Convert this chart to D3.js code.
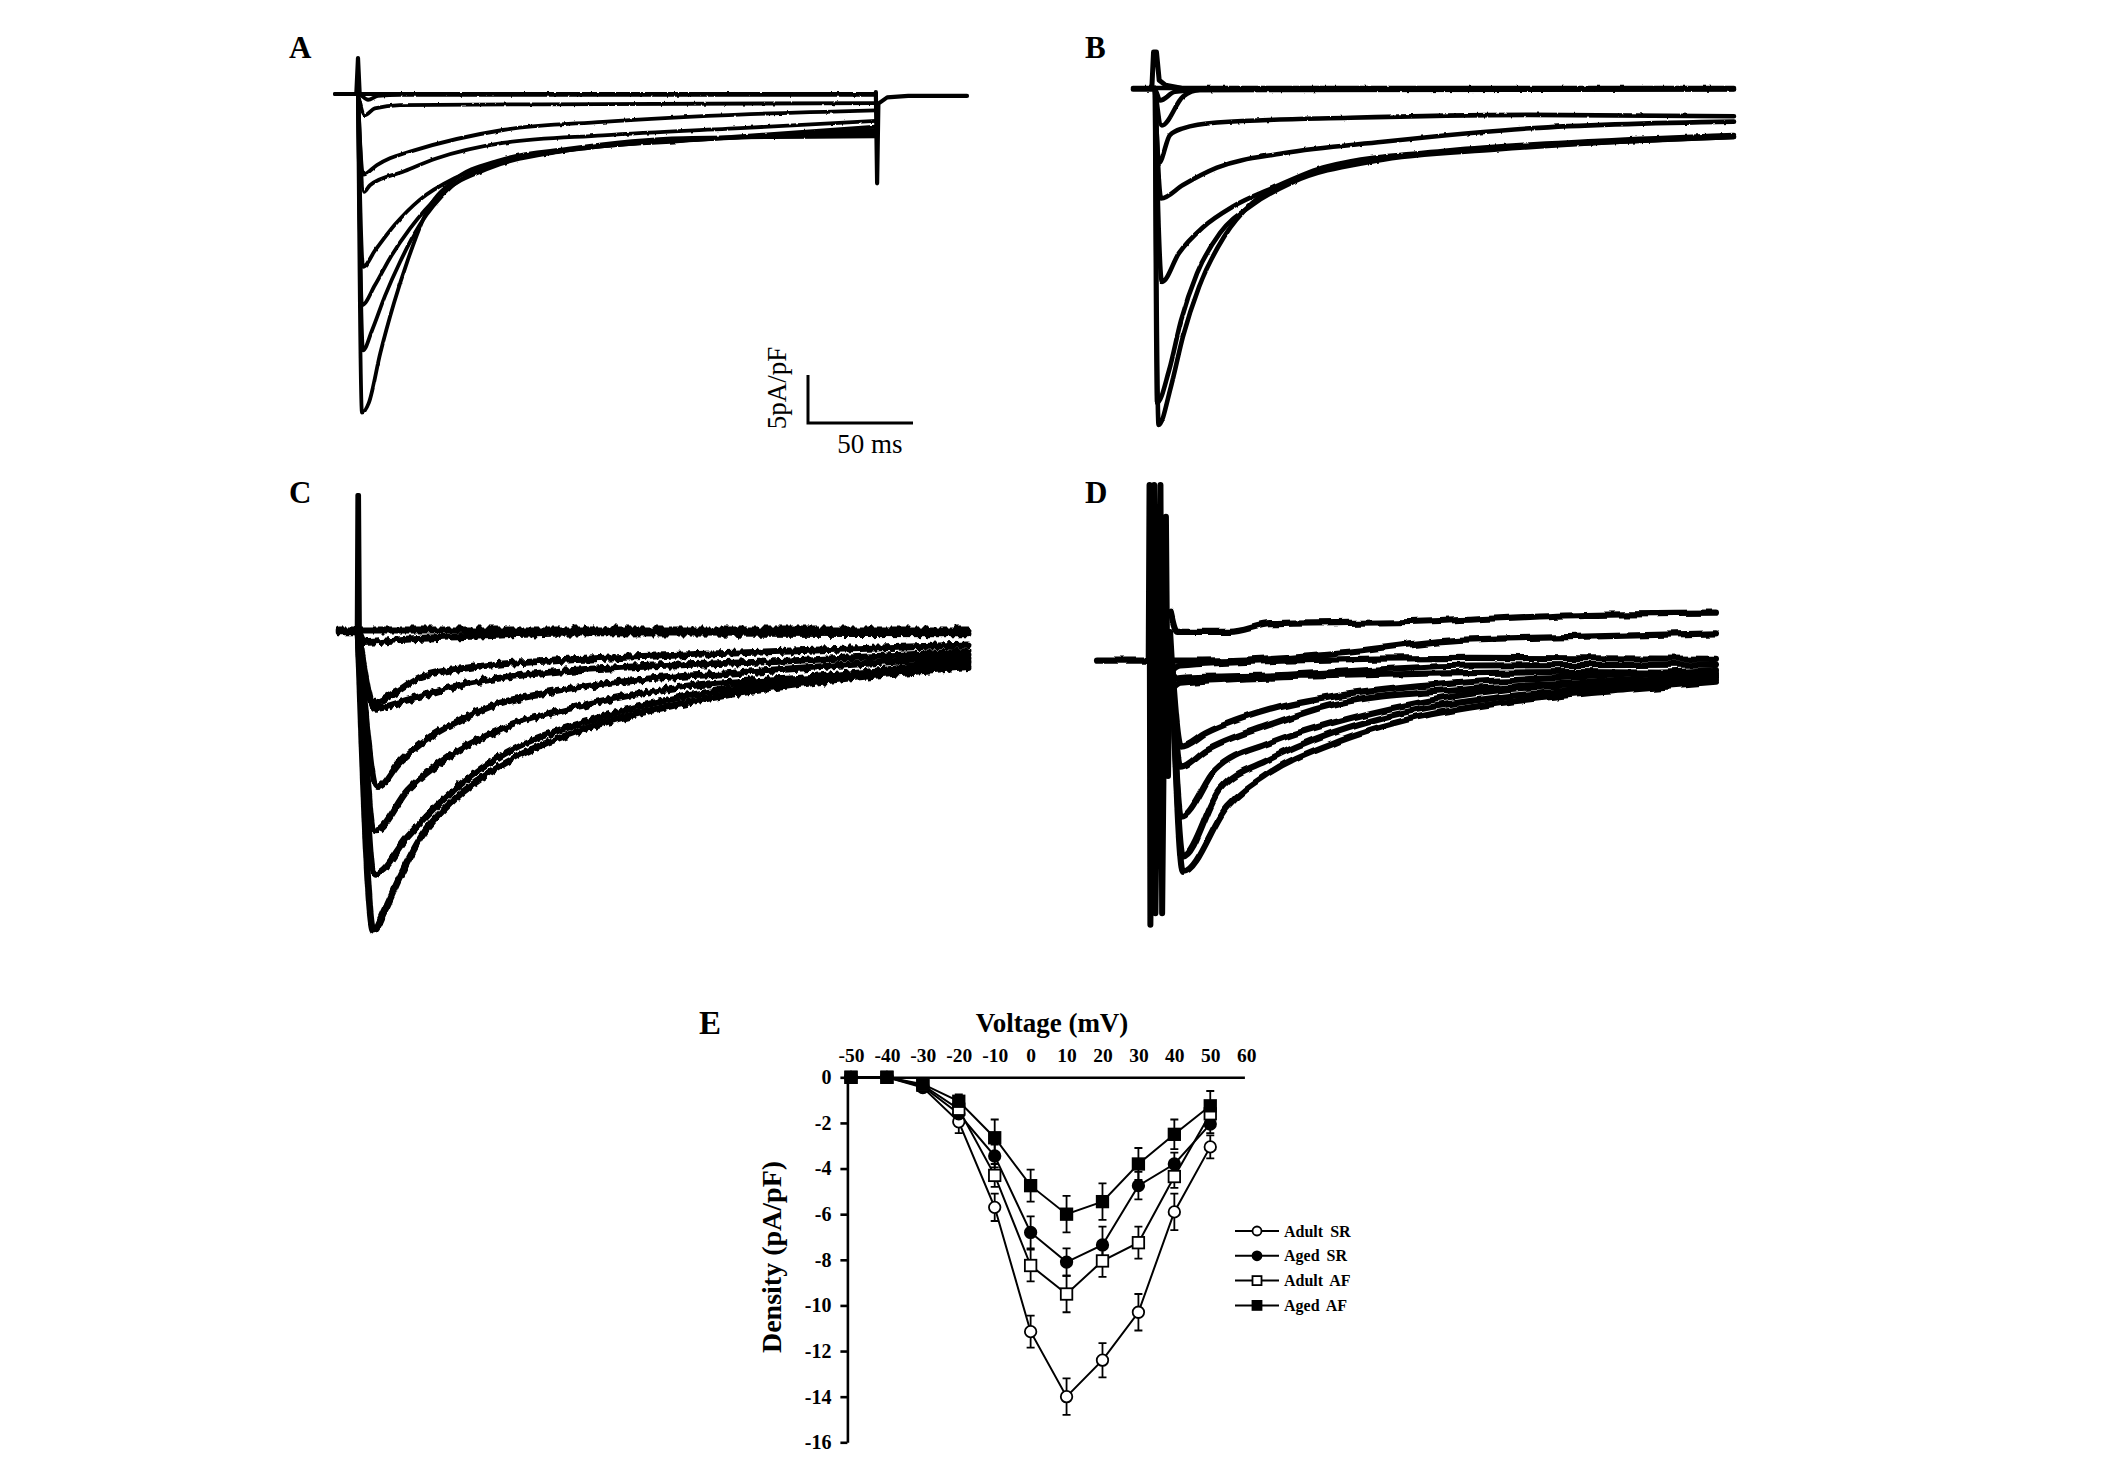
<!DOCTYPE html>
<html><head><meta charset="utf-8">
<script src="https://cdn.jsdelivr.net/npm/d3@7"></script>
<style>body{margin:0;background:#fff}svg{display:block}</style>
</head><body>
<svg id="fig" width="2126" height="1473">
<defs>
 <filter id="jitterC" filterUnits="userSpaceOnUse" x="300" y="460" width="740" height="520">
  <feTurbulence type="fractalNoise" baseFrequency="0.22 0.06" numOctaves="2" seed="3" result="t"/>
  <feColorMatrix in="t" type="matrix" values="0 0 0 0 0.5  0 1 0 0 0  0 0 1 0 0  0 0 0 0 1" result="m"/>
  <feDisplacementMap in="SourceGraphic" in2="m" scale="8" xChannelSelector="R" yChannelSelector="G"/>
 </filter>
 <filter id="jitterD" filterUnits="userSpaceOnUse" x="1080" y="460" width="740" height="520">
  <feTurbulence type="fractalNoise" baseFrequency="0.06 0.03" numOctaves="1" seed="7" result="t"/>
  <feColorMatrix in="t" type="matrix" values="0 0 0 0 0.5  0 1 0 0 0  0 0 1 0 0  0 0 0 0 1" result="m"/>
  <feDisplacementMap in="SourceGraphic" in2="m" scale="8" xChannelSelector="R" yChannelSelector="G"/>
 </filter>
 <filter id="jitterAB" filterUnits="userSpaceOnUse" x="280" y="20" width="1560" height="440">
  <feTurbulence type="fractalNoise" baseFrequency="0.3 0.1" numOctaves="1" seed="5" result="t"/>
  <feColorMatrix in="t" type="matrix" values="0 0 0 0 0.5  0 1 0 0 0  0 0 1 0 0  0 0 0 0 1" result="m"/>
  <feDisplacementMap in="SourceGraphic" in2="m" scale="2.5" xChannelSelector="R" yChannelSelector="G"/>
 </filter>
</defs>
</svg>
<script>
// ---------- Panel E data (I–V relationship) ----------
const voltages = [-50,-40,-30,-20,-10,0,10,20,30,40,50];
const xTickLabels = [-50,-40,-30,-20,-10,0,10,20,30,40,50,60];
const yTickLabels = [0,-2,-4,-6,-8,-10,-12,-14,-16];
const seriesNames = ["Adult SR","Aged SR","Adult AF","Aged AF"];
const adultSR = [0,0,-0.45,-1.95,-5.7,-11.15,-14.0,-12.4,-10.3,-5.9,-3.05];
const agedSR  = [0,0,-0.4,-1.6,-3.45,-6.8,-8.1,-7.35,-4.75,-3.8,-2.05];
const adultAF = [0,0,-0.35,-1.4,-4.3,-8.25,-9.5,-8.05,-7.25,-4.35,-1.6];
const agedAF  = [0,0,-0.3,-1.05,-2.65,-4.75,-6.0,-5.45,-3.8,-2.5,-1.25];
const adultSRerr = [0,0,0.1,0.5,0.6,0.7,0.8,0.75,0.8,0.8,0.5];
const agedSRerr  = [0,0,0.1,0.3,0.5,0.7,0.6,0.8,0.6,0.5,0.4];
const adultAFerr = [0,0,0.1,0.3,0.5,0.7,0.8,0.7,0.7,0.5,0.4];
const agedAFerr  = [0,0,0.1,0.3,0.8,0.7,0.8,0.8,0.7,0.65,0.65];

// ---------- Current traces: [time ms, density pA/pF] ----------
const traceA = [
 [[-11,0],[246.7,0]],
 [[-11,0],[0,0],[4.8,-0.6],[9.5,-0.2],[20,-0.1],[246.7,-0.1]],
 [[0,0],[3.3,-2.2],[8,-1.5],[20,-1.15],[115,-1.05],[246.7,-0.95]],
 [[0,0],[2.4,-8.4],[9,-7.4],[15.2,-6.7],[24.8,-6.0],[69,-3.75],[116.7,-2.9],[186.7,-2.1],[246.7,-1.7]],
 [[0,0],[2.9,-10.2],[5.7,-9.5],[21.4,-8.1],[37.6,-6.7],[69,-5.1],[116.7,-4.3],[186.7,-3.5],[246.7,-2.8]],
 [[0,0],[2.4,-18],[8.1,-16.3],[17.6,-13.6],[29.5,-11],[46.2,-8.75],[72.4,-6.9],[110.5,-5.6],[162.9,-4.7],[246.7,-3.4]],
 [[0,0],[1.9,-22],[8.1,-19.9],[15.2,-17.1],[24.8,-14],[39,-10.5],[62.9,-7.7],[96.2,-6.0],[153.3,-4.9],[246.7,-3.75]],
 [[0,0],[2.4,-26.7],[6.7,-24.6],[12.9,-21],[20,-17.5],[29.5,-13.6],[43.8,-9.8],[67.6,-7.2],[101,-5.8],[158,-4.8],[246.7,-4.1]],
 [[0,0],[1.9,-33.2],[5.1,-32.2],[10.6,-27.0],[17.1,-21.8],[23.7,-17.3],[32.4,-12.4],[45.6,-9.0],[67.4,-6.9],[100.2,-5.7],[154.9,-4.6],[246.7,-4.4]]
];
const artifactA = [
 [[-0.8,0],[0,3.75],[0.8,0]],
 [[246.6,0.2],[247.2,-9.3],[247.8,-1.0],[252,-0.35],[262,-0.2],[290,-0.2]]
];
const traceB = [
 [[-10.5,0],[275.7,0]],
 [[-10.5,-0.15],[0,-0.15],[2.4,-1.3],[9.5,-0.4],[21.4,-0.2],[275.7,-0.15]],
 [[0,0],[3.3,-3.9],[13.3,-0.9],[21.4,-0.2],[275.7,-0.1]],
 [[0,0],[1.9,-7.8],[7.1,-4.9],[13.3,-4.2],[29.5,-3.6],[92.9,-3.1],[178.6,-2.8],[275.7,-2.95]],
 [[0,0],[2.9,-11.5],[13.3,-10.1],[29.5,-8.3],[61,-6.8],[108.6,-5.6],[178.6,-4.2],[275.7,-3.5]],
 [[0,0],[3.3,-20.2],[11.4,-17.2],[22.9,-14.5],[36.7,-12.4],[56.2,-10.4],[81.4,-8.2],[140.5,-6.5],[211.9,-5.5],[275.7,-4.9]],
 [[0,0],[1,-32.8],[6.7,-29.4],[12.4,-24.2],[20,-19.3],[31,-15.1],[46.2,-12.2],[65.7,-9.8],[104.8,-7.6],[162.9,-6.4],[221.4,-5.6],[275.7,-5.1]],
 [[0,0],[1.7,-35.1],[7.6,-31.1],[13.3,-25.9],[21,-20.7],[32.9,-15.5],[46.2,-12],[65.7,-9.6],[104.8,-7.5],[162.9,-6.25],[221.4,-5.6],[275.7,-5.1]]
];
const artifactB = [
 [[-1.5,0],[-0.7,3.75],[0.7,3.75],[2,0.8],[5,0.3],[12,0]]
];
const traceC = [
 [[-9,0],[290.5,0]],
 [[-9,-0.2],[0,-0.2],[3,-1.3],[20,-1.0],[60,-0.6],[111,-0.3],[290.5,-0.4]],
 [[0,0],[7.3,-7.64],[17.1,-6.6],[30.2,-4.86],[56.5,-3.82],[100.2,-3.13],[154.9,-2.6],[220.5,-2.08],[290.5,-1.56]],
 [[0,0],[8.4,-8.16],[23.7,-7.29],[45.6,-5.9],[78.4,-4.69],[133,-3.82],[198.6,-3.3],[290.5,-2.26]],
 [[0,0],[9.5,-16.32],[19.3,-13.89],[34.6,-11.11],[45.6,-9.72],[67.4,-7.64],[89.3,-6.6],[133,-5.21],[176.8,-4.51],[242.4,-3.47],[290.5,-2.78]],
 [[0,0],[8.4,-20.83],[23.7,-16.67],[45.6,-12.85],[67.4,-10.42],[111.1,-7.64],[154.9,-5.9],[220.5,-4.86],[290.5,-3.13]],
 [[0,0],[8.4,-25.35],[23.7,-21.53],[45.6,-16.67],[67.4,-13.19],[111.1,-9.38],[154.9,-6.94],[220.5,-5.03],[290.5,-3.47]],
 [[0,0],[7.3,-31.25],[12.8,-29.17],[19.3,-26.04],[30.2,-21.53],[45.6,-17.71],[67.4,-14.24],[111.1,-10.07],[154.9,-7.64],[220.5,-5.38],[290.5,-3.82]]
];
const artifactC = [
 [[-0.6,0],[-0.3,14.06],[0.5,14.06],[0.9,0]]
];
const traceD = [
 [[-27.6,0],[-3,0]],
 [[7.5,5],[10.5,3.0],[35.7,3.0],[54.8,3.8],[124.8,4.06],[204.8,4.76],[267.1,4.9]],
 [[8,0],[40,0.1],[84.5,0.77],[144.8,2.16],[204.8,2.5],[267.1,2.85]],
 [[8,-1],[12,-0.5],[60,0.0],[150,0.3],[267.1,0.2]],
 [[8,-2],[12,-1.8],[60,-1.5],[150,-0.5],[267.1,-0.4]],
 [[8,-3],[12,-2.3],[80,-1.6],[200,-1.2],[267.1,-1.3]],
 [[8,0],[12.4,-8.96],[24.3,-7.53],[54.3,-5.14],[84.3,-3.78],[144.8,-2.32],[204.8,-1.7],[267.1,-0.97]],
 [[8,0],[12,-11.04],[24.3,-9.3],[54.3,-6.7],[84.3,-4.6],[144.8,-3.05],[204.8,-2.3],[267.1,-1.5]],
 [[8,0],[12.4,-16.25],[28.6,-11.4],[54.3,-8.6],[84.3,-6.5],[124.8,-4.4],[164.8,-3.05],[224.8,-2.3],[267.1,-1.7]],
 [[8,0],[13.3,-20.4],[30.5,-13.5],[54.3,-10.3],[84.3,-7.5],[124.8,-5.1],[164.8,-3.8],[224.8,-2.7],[267.1,-2.0]],
 [[8,0],[13.3,-22.0],[34.3,-15.2],[54.3,-11.7],[84.3,-8.6],[124.8,-5.9],[164.8,-4.4],[224.8,-3.05],[267.1,-2.3]]
];
const artifactD = [
 [[-3,0],[-2.6,18.3],[-2.2,-27.5],[-0.4,18.3],[0.2,-26.3],[2.6,18.3],[3.4,-26.3],[5.2,15],[6.2,-12],[7.2,3],[8,0]]
];
const scaleBarMs = 50, scaleBarDensity = 5;

// ---------- drawing ----------
const svg = d3.select("#fig");
const serif = "'Liberation Serif','Times New Roman',serif";
svg.insert("rect","defs").attr("width",2126).attr("height",1473).attr("fill","#fff");

const panels = [
 {label:"A", x0:358, y0:94, lx:289, ly:58, traces:traceA, art:artifactA, sw:3.8, aw:4.2, filt:"url(#jitterAB)"},
 {label:"B", x0:1155, y0:88, lx:1085, ly:58, traces:traceB, art:artifactB, sw:4.6, aw:5, filt:"url(#jitterAB)"},
 {label:"C", x0:358, y0:630, lx:289, ly:503, traces:traceC, art:artifactC, sw:6.8, aw:4, filt:"url(#jitterC)"},
 {label:"D", x0:1155, y0:660.7, lx:1085, ly:503, traces:traceD, art:artifactD, sw:6.2, aw:6, filt:"url(#jitterD)"}
];
const msPerPx = 105/50, unitPx = 48/5;
let scalesA;
panels.forEach(p => {
  const x = d3.scaleLinear().domain([0,50]).range([p.x0, p.x0 + 50*msPerPx]);
  const y = d3.scaleLinear().domain([0,-5]).range([p.y0, p.y0 + 5*unitPx]);
  if (p.label === "A") scalesA = {x, y};
  const g = svg.append("g");
  const gt = g.append("g").attr("filter", p.filt);
  const smooth = d3.line().x(d=>x(d[0])).y(d=>y(d[1])).curve(d3.curveMonotoneX);
  const straight = d3.line().x(d=>x(d[0])).y(d=>y(d[1]));
  gt.selectAll("path.tr").data(p.traces).join("path").attr("class","tr")
    .attr("d", smooth).attr("fill","none").attr("stroke","#000")
    .attr("stroke-width", p.sw).attr("stroke-linejoin","round").attr("stroke-linecap","round");
  g.selectAll("path.art").data(p.art).join("path").attr("class","art")
    .attr("d", straight).attr("fill","none").attr("stroke","#000")
    .attr("stroke-width", p.aw).attr("stroke-linejoin","round").attr("stroke-linecap","round");
  svg.append("text").attr("x",p.lx).attr("y",p.ly).text(p.label)
    .attr("font-family",serif).attr("font-weight","bold").attr("font-size",31).attr("fill","#000");
});

// scale bar
{
  const cx = 808, cy = 423;
  const w = scalesA.x(scaleBarMs) - scalesA.x(0);
  const h = scalesA.y(-scaleBarDensity) - scalesA.y(0);
  svg.append("path").attr("d", `M${cx},${cy-h}V${cy}H${cx+w}`)
    .attr("fill","none").attr("stroke","#000").attr("stroke-width",3);
  svg.append("text").attr("transform",`translate(786,388) rotate(-90)`)
    .attr("text-anchor","middle").attr("font-family",serif).attr("font-size",27).text("5pA/pF");
  svg.append("text").attr("x",870).attr("y",453).attr("text-anchor","middle")
    .attr("font-family",serif).attr("font-size",27).text("50 ms");
}

// ---------- Panel E ----------
const xE = d3.scaleLinear().domain([-51,59.5]).range([847.4,1244.4]);
const yE = d3.scaleLinear().domain([0,-16]).range([1077.3,1442.3]);
const gE = svg.append("g");
const xAx = gE.append("g").attr("transform",`translate(0,${yE(0)})`)
  .call(d3.axisTop(xE).tickValues(xTickLabels).tickFormat(d=>String(d)).tickSize(0).tickSizeOuter(0).tickPadding(15));
const yAx = gE.append("g").attr("transform",`translate(${xE(-51)},0)`)
  .call(d3.axisLeft(yE).tickValues(yTickLabels).tickFormat(d=>String(d)).tickSize(7).tickSizeOuter(0).tickPadding(9));
[xAx,yAx].forEach(a=>{
  a.attr("font-family",serif).attr("font-weight","bold");
  a.selectAll("path.domain").attr("stroke-width",2.6);
  a.selectAll(".tick line").attr("stroke-width",2.6);
});
xAx.attr("font-size",19.5);
yAx.attr("font-size",20);
gE.append("text").attr("x",1052).attr("y",1032).attr("text-anchor","middle")
  .attr("font-family",serif).attr("font-weight","bold").attr("font-size",27).text("Voltage (mV)");
gE.append("text").attr("transform","translate(781,1257) rotate(-90)").attr("text-anchor","middle")
  .attr("font-family",serif).attr("font-weight","bold").attr("font-size",28).text("Density (pA/pF)");
svg.append("text").attr("x",699).attr("y",1034).text("E")
  .attr("font-family",serif).attr("font-weight","bold").attr("font-size",33);

const series = [
  {name:seriesNames[0], v:adultSR, e:adultSRerr, shape:"circle", fill:"#fff"},
  {name:seriesNames[1], v:agedSR,  e:agedSRerr,  shape:"circle", fill:"#000"},
  {name:seriesNames[2], v:adultAF, e:adultAFerr, shape:"square", fill:"#fff"},
  {name:seriesNames[3], v:agedAF,  e:agedAFerr,  shape:"square", fill:"#000"}
];
const lineE = d3.line().x((d,i)=>xE(voltages[i])).y(d=>yE(d));
series.forEach(s=>{
  gE.append("path").attr("d",lineE(s.v)).attr("fill","none").attr("stroke","#000").attr("stroke-width",2);
});
series.forEach(s=>{
  s.v.forEach((v,i)=>{
    if (!s.e[i]) return;
    const x = xE(voltages[i]);
    gE.append("path").attr("d",`M${x},${yE(v-s.e[i])}V${yE(v+s.e[i])}M${x-4},${yE(v-s.e[i])}H${x+4}M${x-4},${yE(v+s.e[i])}H${x+4}`)
      .attr("stroke","#000").attr("stroke-width",1.8).attr("fill","none");
  });
});
function marker(g, shape, fill, x, y, size){
  if (shape==="circle") g.append("circle").attr("cx",x).attr("cy",y).attr("r",size/2)
      .attr("fill",fill).attr("stroke","#000").attr("stroke-width",1.8);
  else g.append("rect").attr("x",x-size/2).attr("y",y-size/2).attr("width",size).attr("height",size)
      .attr("fill",fill).attr("stroke","#000").attr("stroke-width",1.8);
}
series.forEach(s=>{
  s.v.forEach((v,i)=> marker(gE, s.shape, s.fill, xE(voltages[i]), yE(v), 11.5));
});
// legend
series.forEach((s,i)=>{
  const yy = 1231 + i*24.8;
  gE.append("line").attr("x1",1235).attr("x2",1279).attr("y1",yy).attr("y2",yy).attr("stroke","#000").attr("stroke-width",2);
  marker(gE, s.shape, s.fill, 1257, yy, 9);
  gE.append("text").attr("x",1284).attr("y",yy).attr("dy","0.35em").attr("font-family",serif)
    .attr("font-weight","bold").attr("font-size",16).attr("word-spacing",3).text(s.name);
});
</script>
</body></html>
